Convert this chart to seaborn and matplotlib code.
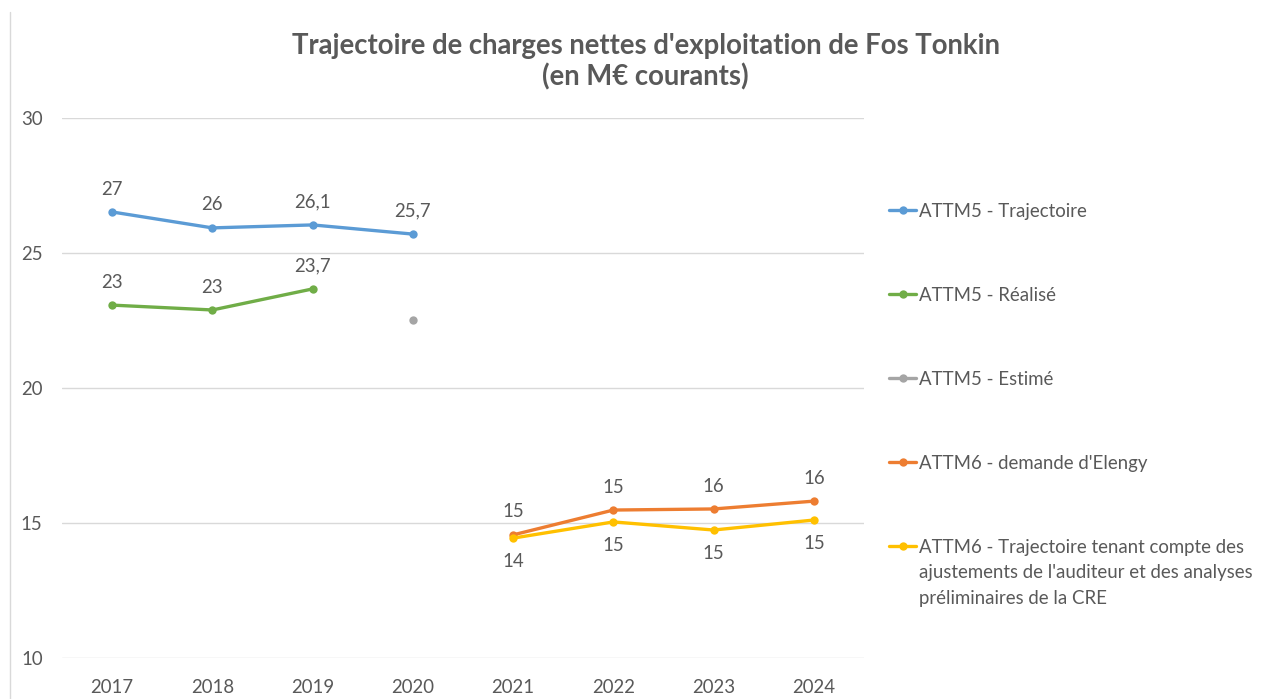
import pandas as pd
import matplotlib.pyplot as plt
import matplotlib.lines as mlines
import seaborn as sns

# Données (M€ courants)
years = [2017, 2018, 2019, 2020, 2021, 2022, 2023, 2024]
attm5_traj = [26.52, 25.93, 26.04, 25.70, None, None, None, None]
attm5_real = [23.07, 22.89, 23.67, None, None, None, None, None]
attm5_est = [None, None, None, 22.52, None, None, None, None]
attm6_elengy = [None, None, None, None, 14.56, 15.48, 15.52, 15.81]
attm6_cre = [None, None, None, None, 14.44, 15.04, 14.74, 15.11]

labels_traj = ["27", "26", "26,1", "25,7"]
labels_real = ["23", "23", "23,7"]
labels_elengy = ["15", "15", "16", "16"]
labels_cre = ["14", "15", "15", "15"]

series_names = [
    "ATTM5 - Trajectoire",
    "ATTM5 - Réalisé",
    "ATTM5 - Estimé",
    "ATTM6 - demande d'Elengy",
    "ATTM6 - Trajectoire tenant compte des",
]
last_label_rest = ["ajustements de l'auditeur et des analyses", "préliminaires de la CRE"]
colors = ["#5B9BD5", "#70AD47", "#A5A5A5", "#ED7D31", "#FFC000"]
TXT = "#595959"
FS = 13.4

sns.set_theme(style="white")
plt.rcParams['font.family'] = ['Lato', 'DejaVu Sans']

wide = pd.DataFrame({
    series_names[0]: attm5_traj,
    series_names[1]: attm5_real,
    series_names[2]: attm5_est,
    series_names[3]: attm6_elengy,
    series_names[4]: attm6_cre,
}, index=years)
df = wide.reset_index(names="Année").melt(id_vars="Année", var_name="Série", value_name="Valeur").dropna()

fig = plt.figure(figsize=(12.71, 6.99), dpi=100)
ax = fig.add_axes([62 / 1271, 41 / 699, 802 / 1271, 540 / 699])

sns.lineplot(data=df, x="Année", y="Valeur", hue="Série", hue_order=series_names,
             palette=colors, marker="o", markersize=6, markeredgewidth=0,
             linewidth=2.4, ax=ax)

# étiquettes de données
def annotate(vals, labels, dy):
    pts = [(y, v) for y, v in zip(years, vals) if v is not None]
    for (y, v), t in zip(pts, labels):
        ax.annotate(t, (y, v), xytext=(0, dy), textcoords="offset points",
                    ha="center", va="center", fontsize=FS, color=TXT)

annotate(attm5_traj, labels_traj, 16.5)
annotate(attm5_real, labels_real, 16.5)
annotate(attm6_elengy, labels_elengy, 16.5)
annotate(attm6_cre, labels_cre, -17)

ax.set_xlim(2016.5, 2024.5)
ax.set_ylim(10, 30)
ax.set_xticks(years)
ax.set_xticklabels([str(y) for y in years])
ax.set_yticks([10, 15, 20, 25, 30])
ax.yaxis.grid(True, color="#D9D9D9", linewidth=1)
ax.set_axisbelow(True)
for s in ax.spines.values():
    s.set_visible(False)
ax.tick_params(axis="both", length=0, labelsize=FS, labelcolor=TXT)
ax.tick_params(axis="y", pad=14)
ax.tick_params(axis="x", pad=15)
ax.set_xlabel("")
ax.set_ylabel("")

handles, labs = ax.get_legend_handles_labels()
leg = ax.legend(handles, labs, loc="upper left", bbox_to_anchor=(820 / 802, 0.857),
                frameon=False, fontsize=FS, labelspacing=3.6, handlelength=1.45,
                handletextpad=0.15, borderaxespad=0)
for t in leg.get_texts():
    t.set_color(TXT)

fig.text(0.508, 1 - 61.5 / 699, "Trajectoire de charges nettes d'exploitation de Fos Tonkin\n(en M€ courants)",
         ha="center", va="center", fontsize=19.8, fontweight="bold", color=TXT, linespacing=1.2)

fig.add_artist(mlines.Line2D([10 / 1271, 10 / 1271], [0, 1 - 12 / 699], color="#D9D9D9", linewidth=1))

# suite du libellé de la dernière série, sous la première ligne de la légende
fig.canvas.draw()
bb = leg.get_texts()[-1].get_window_extent()
x0 = bb.x0 / fig.bbox.width
yc = (bb.y0 + bb.y1) / 2
for i, line in enumerate(last_label_rest):
    fig.text(x0, (yc - 25.5 * (i + 1)) / fig.bbox.height, line,
             ha="left", va="center", fontsize=FS, color=TXT)

fig.savefig("out.png", dpi=100)
